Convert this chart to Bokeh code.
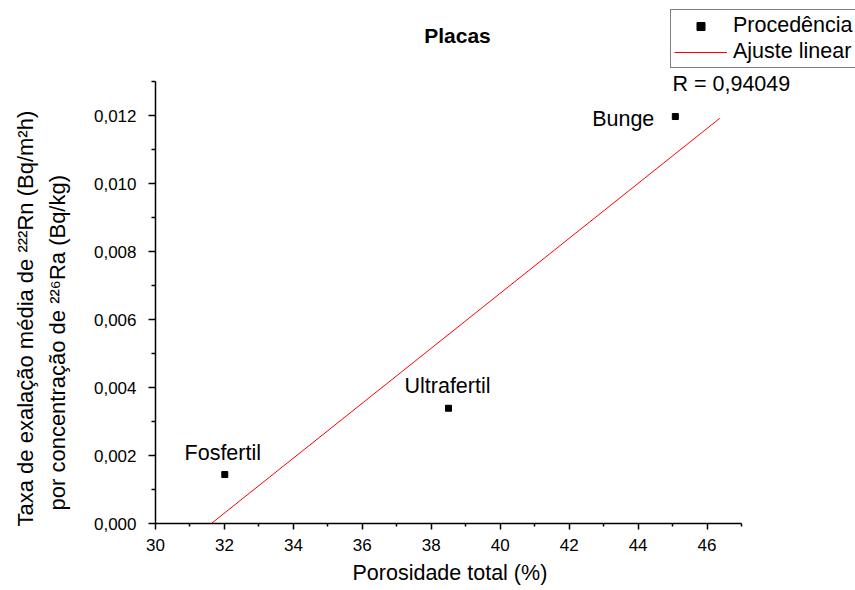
import numpy as np
from bokeh.plotting import figure
from bokeh.models import (Range1d, FixedTicker, CustomJSTickFormatter, Label,
                          Legend, LegendItem, ColumnDataSource, Title)
from bokeh.embed import file_html
from bokeh.resources import INLINE

# Samples: total porosity (%) vs. mean 222Rn exhalation rate per 226Ra concentration
sources = ["Fosfertil", "Ultrafertil", "Bunge"]
porosity = [32.01, 38.50, 45.08]
exhalation = [0.00144, 0.00339, 0.01197]

# Linear fit drawn over its plotted span
fit_slope = 0.000808
fit_x = [31.62, 46.37]
fit_r = "0,94049"

x_ticks = [30, 32, 34, 36, 38, 40, 42, 44, 46]
x_minor = [31, 33, 35, 37, 39, 41, 43, 45, 47]
y_ticks = [0.0, 0.002, 0.004, 0.006, 0.008, 0.010, 0.012]
y_minor = [0.001, 0.003, 0.005, 0.007, 0.009, 0.011, 0.013]
x_bounds = (30, 47)
y_bounds = (0.0, 0.013)

FONT = "Liberation Sans"
TXT = "21.5px"

# canvas and frame geometry in pixels; the frame reaches the top and right
# edges so that title, legend and annotations are not clipped
W, H = 855, 590
FL, FT, FR, FB = 155, 0, 855, 523
AX_RIGHT, AX_TOP = 741, 81          # pixel ends of the bounded axes
PX_X = (AX_RIGHT - FL) / (x_bounds[1] - x_bounds[0])
PX_Y = (FB - AX_TOP) / (y_bounds[1] - y_bounds[0])
x_end = x_bounds[0] + (FR - FL) / PX_X
y_end = y_bounds[0] + (FB - FT) / PX_Y
BASE_SHIFT = 8                      # baseline correction for label text


def dx(px):
    return x_bounds[0] + (px - FL) / PX_X


def dy(py):
    return y_bounds[0] + (FB - py + BASE_SHIFT) / PX_Y


p = figure(width=W, height=H, output_backend="svg", toolbar_location=None,
           x_range=Range1d(x_bounds[0], x_end), y_range=Range1d(y_bounds[0], y_end),
           min_border_left=FL, min_border_right=W - FR,
           min_border_top=FT, min_border_bottom=H - FB)
p.outline_line_color = None
p.xgrid.visible = False
p.ygrid.visible = False
p.background_fill_color = "white"
p.border_fill_color = "white"

for ax in (p.xaxis[0], p.yaxis[0]):
    ax.axis_line_width = 1.5
    ax.axis_line_color = "black"
    ax.major_tick_line_width = 1.5
    ax.minor_tick_line_width = 1.5
    ax.major_tick_line_color = "black"
    ax.minor_tick_line_color = "black"
    ax.major_tick_in = 0
    ax.minor_tick_in = 0
    ax.major_label_text_font = FONT
    ax.major_label_text_font_size = "17px"
    ax.major_label_text_color = "black"

p.xaxis[0].bounds = x_bounds
p.xaxis[0].ticker = FixedTicker(ticks=x_ticks, minor_ticks=x_minor)
p.xaxis[0].major_tick_out = 6
p.xaxis[0].minor_tick_out = 3
p.xaxis[0].major_label_standoff = 9

p.yaxis[0].bounds = y_bounds
p.yaxis[0].ticker = FixedTicker(ticks=y_ticks, minor_ticks=y_minor)
p.yaxis[0].major_tick_out = 7
p.yaxis[0].minor_tick_out = 4
p.yaxis[0].major_label_standoff = 12
p.yaxis[0].formatter = CustomJSTickFormatter(
    code="return tick.toFixed(3).replace('.', ',');")

# fitted line
fit_y = [fit_slope * (x - fit_x[0]) for x in fit_x]
line_r = p.line(fit_x, fit_y, line_color="#ff0000", line_width=1)

# data points
src = ColumnDataSource(dict(x=porosity, y=exhalation, name=sources))
pts = p.scatter("x", "y", source=src, marker="square", size=6,
                fill_color="black", line_color="black")

# point labels
offsets = {"Fosfertil": ("center", -2, 14),
           "Ultrafertil": ("center", -1, 14),
           "Bunge": ("right", -21, -10)}
for name, x, y in zip(sources, porosity, exhalation):
    align, xo, yo = offsets[name]
    p.add_layout(Label(x=x, y=y, text=name, x_offset=xo, y_offset=yo + BASE_SHIFT,
                       text_align=align, text_baseline="alphabetic",
                       text_font=FONT, text_font_size=TXT,
                       text_color="black"))

# title
p.add_layout(Label(x=dx(457), y=dy(43), text="Placas", text_align="center",
                   text_baseline="alphabetic", text_font=FONT,
                   text_font_size="21px", text_font_style="bold",
                   text_color="black"))

# correlation coefficient
p.add_layout(Label(x=dx(672), y=dy(91), text="R = " + fit_r,
                   text_align="left", text_baseline="alphabetic",
                   text_font=FONT, text_font_size=TXT, text_color="black"))

# y axis title: a blank spacer next to the tick labels, then the two lines
spacer = Title(text=" ", standoff=0, text_font=FONT, text_font_size="17px")
y_title_2 = Title(text="por concentração de ²²⁶Ra (Bq/kg)", align="left",
                  offset=13, standoff=0,
                  text_font=FONT, text_font_size="22px",
                  text_font_style="normal", text_color="black")
y_title_1 = Title(text="Taxa de exalação média de ²²²Rn (Bq/m²h)", align="left",
                  offset=-3, standoff=9,
                  text_font=FONT, text_font_size="22px",
                  text_font_style="normal", text_color="black")
p.add_layout(spacer, "left")
p.add_layout(y_title_2, "left")
p.add_layout(y_title_1, "left")

# x axis title
x_title = Title(text="Porosidade total (%)", align="left",
                offset=352 - FL, standoff=10,
                text_font=FONT, text_font_size=TXT,
                text_font_style="normal", text_color="black")
p.add_layout(x_title, "below")

legend = Legend(items=[LegendItem(label="Procedência", renderers=[pts]),
                       LegendItem(label="Ajuste linear", renderers=[line_r])],
                location=(670 - FL, FB - 68),
                label_text_font=FONT, label_text_font_size=TXT,
                label_text_color="black",
                glyph_width=53, glyph_height=20, label_height=20,
                label_standoff=6, padding=3, spacing=1, margin=0,
                border_line_color="black", border_line_width=1,
                background_fill_color="white", background_fill_alpha=1.0)
p.add_layout(legend)

open("out.html", "w").write(file_html(p, INLINE))
